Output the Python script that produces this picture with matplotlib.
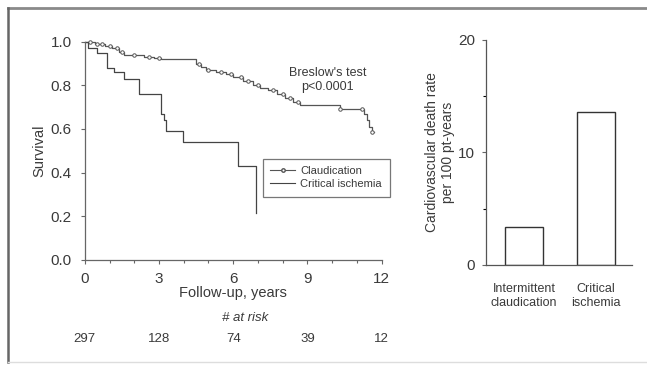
import numpy as np
import matplotlib.pyplot as plt
from matplotlib.lines import Line2D
from matplotlib.ticker import MultipleLocator
import matplotlib.transforms as mtransforms

plt.rcParams['font.family'] = ['Liberation Sans', 'DejaVu Sans']

# Kaplan-Meier steps, claudication group
claud_t = [0, 0.4, 0.8, 1.1, 1.4, 1.6, 2.4, 2.8, 3.1, 4.5, 4.7, 4.9, 5.3, 5.7, 6.0,
           6.4, 6.8, 7.1, 7.4, 7.75, 8.1, 8.4, 8.7, 10.3, 11.3, 11.4, 11.5, 11.6, 11.7]
claud_s = [1.0, 0.99, 0.98, 0.97, 0.955, 0.94, 0.93, 0.925, 0.92, 0.90, 0.885, 0.87,
           0.86, 0.85, 0.84, 0.82, 0.80, 0.79, 0.78, 0.76, 0.74, 0.725, 0.71, 0.69,
           0.67, 0.64, 0.61, 0.585, 0.585]
claud_cens = [0.2, 0.5, 0.7, 1.0, 1.3, 1.5, 2.0, 2.6, 3.0, 4.6, 5.0, 5.5, 5.9, 6.3,
              6.6, 7.0, 7.6, 8.0, 8.3, 8.6, 10.3, 11.2, 11.6]

# Kaplan-Meier steps, critical ischemia group
crit_t = [0, 0.15, 0.5, 0.9, 1.2, 1.6, 2.2, 3.1, 3.2, 3.3, 3.95, 6.2, 6.9, 6.9]
crit_s = [1.0, 0.97, 0.95, 0.88, 0.86, 0.83, 0.76, 0.67, 0.64, 0.59, 0.54, 0.43, 0.215, 0.215]

risk_years = [0, 3, 6, 9, 12]
at_risk = [297, 128, 74, 39, 12]

groups = ['Intermittent\nclaudication', 'Critical\nischemia']
death_rate = [3.4, 13.6]

ink = '#3a3a3a'

fig = plt.figure(figsize=(6.47, 3.66), dpi=100)

# survival curves
ax = fig.add_axes([0.131, 0.290, 0.459, 0.596])
ax.step(claud_t, claud_s, where='post', color='#555555', lw=0.9, clip_on=False)
cens_s = [claud_s[np.searchsorted(claud_t, c, side='right') - 1] for c in claud_cens]
ax.plot(claud_cens, cens_s, 'o', ms=2.5, mfc='white', mec='#555555', mew=0.7, clip_on=False)
ax.step(crit_t, crit_s, where='post', color='#444444', lw=0.9, clip_on=False)

leg_claud = Line2D([], [], color='#555555', lw=0.8, marker='o', ms=2.5, mfc='white', mec='#555555')
leg_crit = Line2D([], [], color='#444444', lw=0.8)
leg = ax.legend([leg_claud, leg_crit], ['Claudication', 'Critical ischemia'],
                loc='upper left', bbox_to_anchor=(0.58, 0.49), fontsize=8,
                frameon=True, fancybox=False, handlelength=2.2, borderpad=0.7,
                labelspacing=0.25, handletextpad=0.5)
leg.get_frame().set_edgecolor('#555555')
leg.get_frame().set_linewidth(0.9)
for t in leg.get_texts():
    t.set_color(ink)

ax.text(9.8, 0.825, "Breslow's test\np<0.0001", ha='center', va='center', fontsize=9,
        color=ink, linespacing=1.15)

ax.set_xlim(0, 12)
ax.set_ylim(0, 1.0)
ax.set_xticks(risk_years)
ax.xaxis.set_minor_locator(MultipleLocator(1))
ax.set_yticks(np.arange(0, 1.01, 0.2))
ax.set_yticklabels(['%.1f' % v for v in np.arange(0, 1.01, 0.2)])
for s in ['top', 'right']:
    ax.spines[s].set_visible(False)
for s in ['left', 'bottom']:
    ax.spines[s].set_color('#666666')
    ax.spines[s].set_linewidth(0.9)
ax.tick_params(axis='both', labelsize=11, colors='#666666', labelcolor=ink, length=3, width=0.8)
ax.tick_params(axis='y', pad=6.5)
ax.tick_params(axis='x', pad=6)
ax.tick_params(axis='x', which='minor', length=2, width=0.8, colors='#666666')
ax.set_xlabel('Follow-up, years', fontsize=10.5, color=ink, labelpad=0)
ax.set_ylabel('Survival', fontsize=10.5, color=ink, labelpad=3)

trans = mtransforms.blended_transform_factory(ax.transData, ax.transAxes)
ax.text(6.5, -0.265, '# at risk', style='italic', ha='center', va='center', fontsize=9.5,
        color=ink, transform=trans)
for yr, n in zip(risk_years, at_risk):
    ax.text(yr, -0.362, str(n), ha='center', va='center', fontsize=9.5, color=ink, transform=trans)

# cardiovascular death rate bars
bx = fig.add_axes([0.751, 0.276, 0.226, 0.615])
pos = np.arange(len(groups))
bx.bar(pos, death_rate, width=0.53, color='white', edgecolor='#333333', linewidth=1.0)
bx.set_xlim(-0.53, 1.5)
bx.set_ylim(0, 20)
bx.set_yticks([0, 10, 20])
bx.yaxis.set_minor_locator(MultipleLocator(5))
bx.set_xticks(pos)
bx.set_xticklabels(groups, fontsize=9, color=ink, linespacing=1.2)
bx.tick_params(axis='x', length=0, pad=13)
bx.tick_params(axis='y', labelsize=11, colors='#666666', labelcolor=ink, length=3, width=0.8, pad=5)
bx.tick_params(axis='y', which='minor', length=2, width=0.8)
for s in ['top', 'right']:
    bx.spines[s].set_visible(False)
for s in ['left', 'bottom']:
    bx.spines[s].set_color('#555555')
    bx.spines[s].set_linewidth(0.9)
bx.set_ylabel('Cardiovascular death rate\nper 100 pt-years', fontsize=10, color=ink,
              labelpad=2, linespacing=1.2)

# picture frame
fig.add_artist(Line2D([8 / 647, 1.0], [1 - 8 / 366, 1 - 8 / 366], color='#8a8a8a', lw=2.0))
fig.add_artist(Line2D([8 / 647, 8 / 647], [1 - 8 / 366, 1 - 362 / 366], color='#666666', lw=1.8))
fig.add_artist(Line2D([8 / 647, 1.0], [1 - 362 / 366, 1 - 362 / 366], color='#dddddd', lw=1.0))

fig.savefig('out.png', dpi=100)
